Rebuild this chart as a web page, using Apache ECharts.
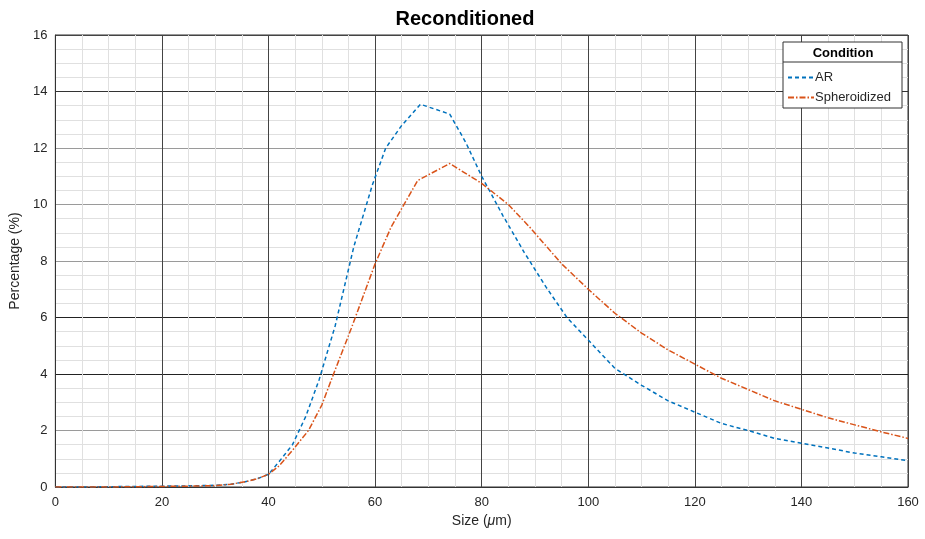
<!DOCTYPE html>
<html><head><meta charset="utf-8">
<script src="https://cdn.jsdelivr.net/npm/echarts@6/dist/echarts.min.js"></script>
<style>html,body{margin:0;padding:0;background:#fff}#c{width:925px;height:539px}</style>
</head><body><div id="c"></div>
<script>
const titleText = 'Reconditioned';
const seriesNames = ['AR', 'Spheroidized'];
const xTicks = [0, 20, 40, 60, 80, 100, 120, 140, 160];
const yTicks = [0, 2, 4, 6, 8, 10, 12, 14, 16];
const arData = [[0,0],[5,0],[10,0.01],[15,0.02],[20,0.03],[25,0.04],[30,0.06],[33,0.1],[36,0.2],[38,0.3],[40,0.45],[42,0.9],[44.5,1.5],[47,2.5],[49.5,3.8],[52.5,5.7],[56,8.5],[59.5,10.7],[62,12.0],[65,12.8],[68.5,13.55],[74,13.2],[77,12.2],[80,11.0],[84,9.6],[88,8.3],[92,7.1],[96,6.0],[100,5.2],[105,4.2],[110,3.6],[115,3.05],[120,2.65],[125,2.25],[130,2.0],[135,1.72],[140,1.55],[145,1.38],[150,1.2],[155,1.07],[160,0.93]];
const sphData = [[0,0],[5,0],[10,0],[15,0.01],[20,0.02],[25,0.03],[30,0.05],[33,0.1],[36,0.2],[38,0.3],[40,0.45],[42,0.75],[44.5,1.3],[47.5,2.0],[50,2.9],[52,3.9],[55.5,5.6],[60,7.9],[63,9.2],[68,10.85],[74,11.45],[80,10.75],[85,10.0],[89,9.2],[95,7.9],[100,7.0],[105,6.15],[110,5.45],[115,4.85],[120,4.35],[125,3.85],[130,3.45],[135,3.05],[140,2.75],[145,2.45],[150,2.2],[155,1.95],[160,1.72]];

const chart = echarts.init(document.getElementById('c'));
const F = 'Liberation Sans, Arial, sans-serif';
const dark = '#444', mid = '#9a9a9a', light = '#e0e0e0';
chart.setOption({
  animation: false,
  backgroundColor: '#fff',
  title: { text: titleText, left: 460, top: 4, textAlign: 'center',
    textStyle: { fontFamily: F, fontSize: 20, fontWeight: 'bold', color: '#000' } },
  grid: { left: 53, right: 17, top: 35, bottom: 52, show: true, borderColor: '#333', borderWidth: 1, containLabel: false },
  xAxis: {
    type: 'value', min: xTicks[0], max: xTicks[xTicks.length-1], interval: 20,
    name: '{a|Size (}{b|μ}{a|m)}', nameLocation: 'middle', nameGap: 27,
    nameTextStyle: { rich: { a: { fontFamily: F, fontSize: 14, color: '#262626' }, b: { fontFamily: F, fontSize: 14, fontStyle: 'italic', color: '#262626' } } },
    axisLine: { show: true, lineStyle: { color: '#333' } },
    axisTick: { show: false },
    axisLabel: { fontFamily: F, fontSize: 13, color: '#262626', margin: 9 },
    splitLine: { show: true, lineStyle: { color: dark, width: 1 } },
    minorTick: { show: false, splitNumber: 4 },
    minorSplitLine: { show: true, lineStyle: { color: light, width: 1 } }
  },
  yAxis: {
    type: 'value', min: yTicks[0], max: yTicks[yTicks.length-1], interval: 2,
    name: 'Percentage (%)', nameLocation: 'middle', nameGap: 33,
    nameTextStyle: { fontFamily: F, fontSize: 14, color: '#262626' },
    axisLine: { show: true, lineStyle: { color: '#333' } },
    axisTick: { show: false },
    axisLabel: { fontFamily: F, fontSize: 13, color: '#262626', margin: 8 },
    splitLine: { show: true, lineStyle: { color: [dark, mid, '#222', '#222', mid, mid, mid, '#333', dark], width: 1 } },
    minorTick: { show: false, splitNumber: 4 },
    minorSplitLine: { show: true, lineStyle: { color: light, width: 1 } }
  },
  legend: {
    orient: 'vertical', left: 782, top: 66, itemWidth: 26, itemHeight: 10, itemGap: 7,
    z: 20,
    itemStyle: { opacity: 0 },
    textStyle: { fontFamily: F, fontSize: 13, color: '#262626', padding: [0,0,0,-4] },
    data: seriesNames
  },
  graphic: [
    { type: 'rect', z: 15, shape: { x: 783, y: 42, width: 119, height: 66 }, style: { fill: '#fff', stroke: '#333', lineWidth: 1 } },
    { type: 'line', z: 16, shape: { x1: 783, y1: 62, x2: 902, y2: 62 }, style: { stroke: '#333', lineWidth: 1 } },
    { type: 'text', z: 16, x: 843, y: 53, style: { text: 'Condition', font: 'bold 13px Liberation Sans, Arial, sans-serif', fill: '#000', textAlign: 'center', textVerticalAlign: 'middle' } }
  ],
  series: [
    { name: seriesNames[0], type: 'line', data: arData, showSymbol: false, symbol: 'none', z: 3,
      lineStyle: { color: '#0072BD', width: 1.5, type: [4, 3] }, itemStyle: { color: '#0072BD' } },
    { name: seriesNames[1], type: 'line', data: sphData, showSymbol: false, symbol: 'none', z: 3,
      lineStyle: { color: '#D95319', width: 1.5, type: [6, 2, 1.5, 2] }, itemStyle: { color: '#D95319' } }
  ]
});
</script></body></html>
